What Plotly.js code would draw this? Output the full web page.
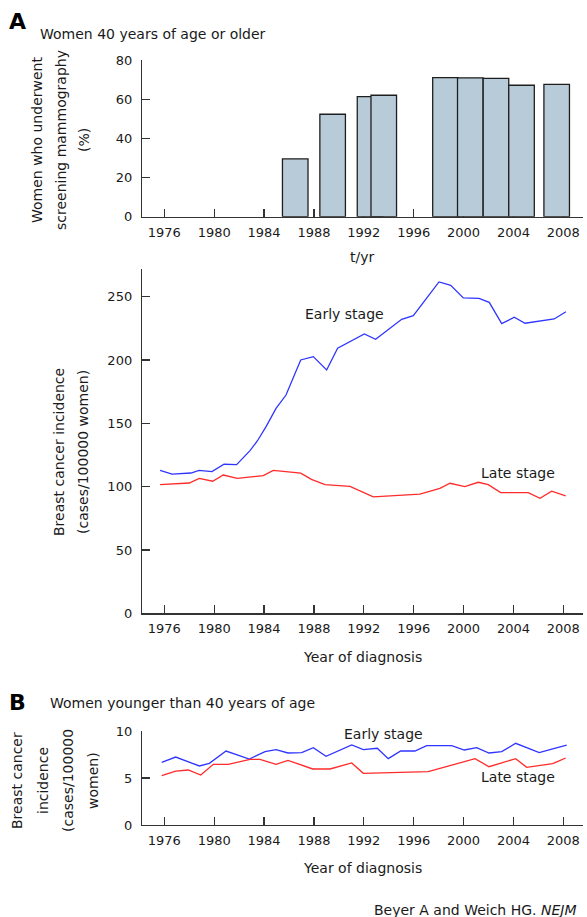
<!DOCTYPE html>
<html>
<head>
<meta charset="utf-8">
<script src="https://cdn.plot.ly/plotly-3.0.1.min.js"></script>
<style>html,body{margin:0;padding:0;background:#fff;}#chart{width:587px;height:917px;}</style>
</head>
<body>
<div id="chart"></div>
<script>
// ---- Panel A, top: screening mammography (%) ----
const barYears = [1986.5, 1989.5, 1992.5, 1993.6, 1998.55, 2000.54, 2002.6, 2004.65, 2007.47];
const barPct   = [29.5, 52.3, 61.3, 62.0, 71.0, 70.9, 70.6, 67.1, 67.6];

// ---- Panel A, middle: incidence, women >= 40 ----
const earlyA_years = [1975.66,1976.62,1978.14,1978.78,1979.82,1980.79,1981.8,1982.87,1983.46,1984.16,1984.96,1985.76,1986.94,1987.95,1989.02,1989.9,1992.04,1992.95,1995.04,1995.97,1998.03,1998.97,1999.98,2001.24,2002.06,2003.06,2004.07,2004.93,2007.27,2008.21];
const earlyA_vals  = [112.9,110.0,110.8,112.9,111.9,117.7,117.4,128.5,136.1,147.4,161.9,172.4,200.1,202.7,192.2,209.3,220.6,216.4,232.2,235.1,261.7,259.1,249.1,248.8,245.6,228.8,233.8,229.1,232.5,238.2];
const lateA_years  = [1975.66,1978.0,1978.8,1979.88,1980.73,1981.85,1983.94,1984.74,1986.94,1987.8,1988.89,1990.89,1992.76,1996.5,1998.1,1998.91,2000.1,2001.18,2001.98,2002.98,2005.19,2006.13,2007.07,2008.19];
const lateA_vals   = [101.6,102.9,106.6,104.3,109.2,106.6,108.7,112.9,110.7,105.8,101.6,100.3,91.9,94.2,98.7,102.7,100.0,103.5,101.6,95.3,95.3,90.8,96.4,92.7];

// ---- Panel B: incidence, women < 40 ----
const earlyB_years = [1975.79,1976.91,1978.81,1979.61,1980.95,1982.82,1984.08,1984.96,1985.92,1987.02,1987.95,1988.97,1991.03,1991.96,1993.08,1993.96,1994.96,1996.1,1997.04,1999.05,2000.06,2001.05,2002.04,2003.06,2004.18,2005.06,2006.07,2007.15,2008.27];
const earlyB_vals  = [6.67,7.23,6.28,6.56,7.87,7.02,7.8,8.01,7.66,7.7,8.23,7.3,8.51,8.01,8.16,7.06,7.87,7.87,8.44,8.44,7.98,8.23,7.66,7.8,8.69,8.23,7.7,8.09,8.51];
const lateB_years  = [1975.79,1976.91,1977.92,1978.92,1979.93,1981.13,1982.87,1983.67,1984.96,1985.92,1987.9,1989.29,1991.03,1991.96,1997.17,2000.92,2002.04,2004.18,2005.06,2007.15,2008.19];
const lateB_vals   = [5.25,5.74,5.85,5.32,6.45,6.45,6.99,6.99,6.45,6.88,5.96,5.96,6.6,5.5,5.67,7.06,6.2,7.06,6.14,6.52,7.13];

const tickYears = [1976,1980,1984,1988,1992,1996,2000,2004,2008];
const tickText  = tickYears.map(String);

// ---- styling ----
const FONT = "DejaVu Sans, Verdana, sans-serif";
const BLUE = "#2f35ff", RED = "#ff2a2a", AX = "#333333", TXT = "#1a1a1a";
const W = 587, H = 917, L = 142, R = 4;
const PW = W - L - R;
const px = x => (x - L) / PW;
const py = y => 1 - y / H;
const xRange = [1974.21, 2009.58];

function xAxis(anchor, extra) {
  return Object.assign({
    anchor: anchor, range: xRange, tickmode: "array", tickvals: tickYears, ticktext: tickText,
    ticks: "inside", ticklen: 8, tickwidth: 1.2, tickcolor: AX,
    showline: true, linecolor: AX, linewidth: 1.2, showgrid: false, zeroline: false,
    tickfont: {family: FONT, size: 13, color: TXT}, ticklabelstandoff: 3, fixedrange: true
  }, extra || {});
}
function yAxis(anchor, domain, range, dtick, extra) {
  return Object.assign({
    anchor: anchor, domain: domain, range: range, tick0: 0, dtick: dtick,
    ticks: "inside", ticklen: 8, tickwidth: 1.2, tickcolor: AX,
    showline: true, linecolor: AX, linewidth: 1.2, showgrid: false, zeroline: false,
    tickfont: {family: FONT, size: 13, color: TXT}, ticklabelstandoff: 6, fixedrange: true
  }, extra || {});
}

const traces = [
  {type: "bar", x: barYears, y: barPct, width: 2.05, xaxis: "x", yaxis: "y",
   marker: {color: "#b8cbd8", line: {color: "#1e1e1e", width: 1.3}}, hoverinfo: "skip"},
  {type: "scatter", mode: "lines", x: earlyA_years, y: earlyA_vals, xaxis: "x2", yaxis: "y2",
   line: {color: BLUE, width: 1.3}, hoverinfo: "skip"},
  {type: "scatter", mode: "lines", x: lateA_years, y: lateA_vals, xaxis: "x2", yaxis: "y2",
   line: {color: RED, width: 1.3}, hoverinfo: "skip"},
  {type: "scatter", mode: "lines", x: earlyB_years, y: earlyB_vals, xaxis: "x3", yaxis: "y3",
   line: {color: BLUE, width: 1.3}, hoverinfo: "skip"},
  {type: "scatter", mode: "lines", x: lateB_years, y: lateB_vals, xaxis: "x3", yaxis: "y3",
   line: {color: RED, width: 1.3}, hoverinfo: "skip"}
];

function txt(text, x, y, opts) {
  return Object.assign({text: text, xref: "paper", yref: "paper", x: px(x), y: py(y),
    xanchor: "center", yanchor: "middle", showarrow: false,
    font: {family: FONT, size: 14, color: TXT}}, opts || {});
}
function vtxt(text, x, y) { return txt(text, x, y, {textangle: -90}); }

const annotations = [
  txt("<b>A</b>", 17, 21, {font: {family: FONT, size: 22, color: "#000"}}),
  txt("Women 40 years of age or older", 38, 34, {xanchor: "left"}),
  vtxt("Women who underwent", 37, 140),
  vtxt("screening mammography", 61, 140),
  vtxt("(%)", 84, 140),
  txt("t/yr", 362, 257),
  vtxt("Breast cancer incidence", 59, 452),
  vtxt("(cases/100000 women)", 83, 452),
  txt("Year of diagnosis", 362, 657),
  {text: "Early stage", xref: "x2", yref: "y2", x: 1990.47, y: 236.2, showarrow: false,
   xanchor: "center", yanchor: "middle", font: {family: FONT, size: 14, color: TXT}},
  {text: "Late stage", xref: "x2", yref: "y2", x: 2004.36, y: 110.8, showarrow: false,
   xanchor: "center", yanchor: "middle", font: {family: FONT, size: 14, color: TXT}},
  txt("<b>B</b>", 17, 702, {font: {family: FONT, size: 22, color: "#000"}}),
  txt("Women younger than 40 years of age", 48, 703, {xanchor: "left"}),
  vtxt("Breast cancer", 17, 781),
  vtxt("incidence", 43, 781),
  vtxt("(cases/100000", 68, 781),
  vtxt("women)", 93, 781),
  txt("Year of diagnosis", 362, 868),
  {text: "Early stage", xref: "x3", yref: "y3", x: 1993.6, y: 9.68, showarrow: false,
   xanchor: "center", yanchor: "middle", font: {family: FONT, size: 14, color: TXT}},
  {text: "Late stage", xref: "x3", yref: "y3", x: 2004.4, y: 5.14, showarrow: false,
   xanchor: "center", yanchor: "middle", font: {family: FONT, size: 14, color: TXT}},
  txt("Beyer A and Weich HG. <i>NEJM</i>", 372, 910, {xanchor: "left", font: {family: FONT, size: 14, color: TXT}})
];

const layout = {
  width: W, height: H, margin: {l: L, r: R, t: 0, b: 0}, autosize: false,
  paper_bgcolor: "#fff", plot_bgcolor: "#fff", showlegend: false, hovermode: false,
  bargap: 0,
  xaxis:  xAxis("y", {layer: "below traces"}),
  yaxis:  yAxis("x", [py(216.7), py(60)], [0, 80], 20),
  xaxis2: xAxis("y2"),
  yaxis2: yAxis("x2", [py(613.3), py(269.3)], [0, 271.7], 50),
  xaxis3: xAxis("y3"),
  yaxis3: yAxis("x3", [py(825), py(731)], [0, 10], 5),
  annotations: annotations
};

Plotly.newPlot("chart", traces, layout, {staticPlot: true, displayModeBar: false});
</script>
</body>
</html>
